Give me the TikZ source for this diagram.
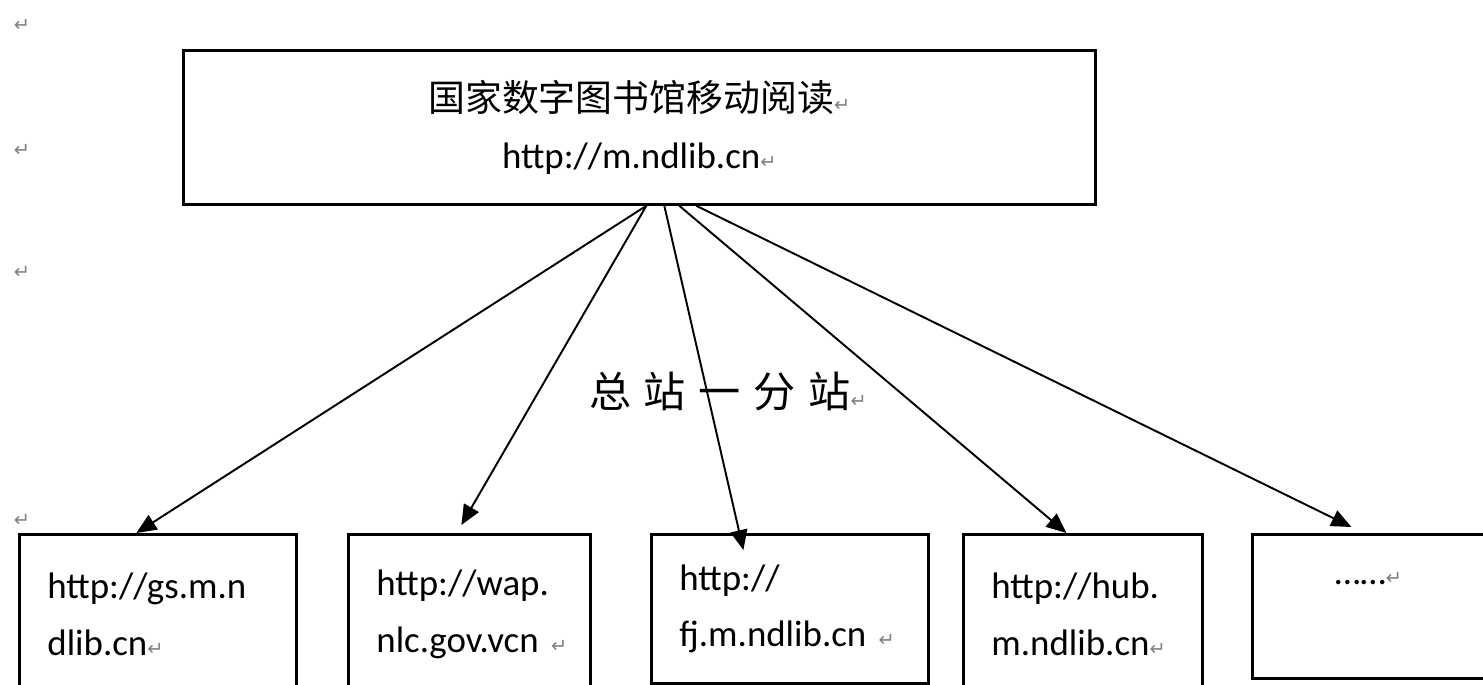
\documentclass[tikz,border=0pt]{standalone}
\usepackage{fontspec}
\setmainfont{Carlito}
\newfontfamily\cjk{Noto Sans CJK SC}
\newfontfamily\cjkwide[LetterSpace=30]{Noto Sans CJK SC}
\newfontfamily\symfont{DejaVu Sans}
\newcommand{\retmark}{{\symfont\color{gray}\fontsize{11}{11}\selectfont ↵}}
\usetikzlibrary{arrows.meta,calc}

\begin{document}
\begin{tikzpicture}[x=0.02cm,y=-0.02cm]
        \clip (0,0) rectangle (1483,684);
        \fill[white] (0,0) rectangle (1483,684);
        \begin{scope}[every node/.style={draw,line width=1.6pt,anchor=north west,inner xsep=0.56cm,align=left,font=\fontsize{21}{32}\selectfont}]
          \node[minimum width=18.24cm,minimum height=3.08cm,align=center] (main) at (182,49) {{\cjk 国家数字图书馆移动阅读}\retmark\\http://m.ndlib.cn\retmark};
          \node[text width=4.42cm,minimum height=3.2cm] (gs) at (18,533) {http://gs.m.n\\dlib.cn\rlap{\retmark}};
          \node[text width=3.72cm,minimum height=3.2cm] (wap) at (347,533) {http://wap.\\nlc.gov.vcn\ \rlap{\retmark}};
          \node[text width=4.42cm,minimum height=2.98cm] (fj) at (650,533) {http://\\fj.m.ndlib.cn\ \rlap{\retmark}};
          \node[text width=3.66cm,minimum height=3.2cm] (hub) at (962,533) {http://hub.\\m.ndlib.cn\rlap{\retmark}};
          \node[minimum width=4.64cm,minimum height=2.88cm,align=center] (more) at (1251,533) {……\retmark\\~};
        \end{scope}
        \node (r1) at (22,25) {\retmark};
        \node (r2) at (22,150) {\retmark};
        \node (r3) at (22,272) {\retmark};
        \node (r4) at (22,520) {\retmark};
        \node (split) at (728,392) {\cjkwide\fontsize{24}{24}\selectfont 总站一分站\retmark};
        \begin{scope}[every edge/.style={draw=black,line width=1.1pt,-{Triangle[length=0.4cm,width=0.34cm]}}]
          \path ($(main.south)+(7,0)$) edge ($(gs.north)+(-21.5,0)$);
          \path ($(main.south)+(7,0)$) edge ($(wap.north)+(-8,-8)$);
          \path ($(main.south)+(25,0)$) edge ($(fj.north)+(-46.5,17)$);
          \path ($(main.south)+(40,0)$) edge ($(hub.north)+(-16.5,0)$);
          \path ($(main.south)+(57,0)$) edge ($(more.north)+(-17,-6)$);
        \end{scope}
\end{tikzpicture}
\end{document}
